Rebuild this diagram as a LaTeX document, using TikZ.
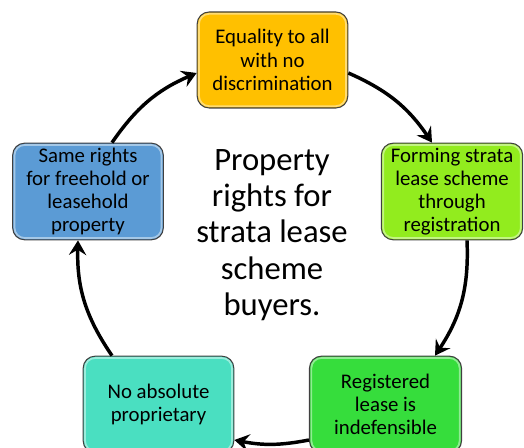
\documentclass[tikz,border=0pt]{standalone}
\usepackage{fontspec}
\setmainfont{Carlito}
\usetikzlibrary{arrows.meta}
\definecolor{cTop}{HTML}{FFC000}
\definecolor{cRight}{HTML}{92EC1E}
\definecolor{cLeft}{HTML}{5B9BD5}
\definecolor{cBL}{HTML}{4ADFC1}
\definecolor{cBR}{HTML}{36DD3C}
\tikzset{
  box/.style={draw=black!75, line width=0.8pt, rounded corners=9pt, align=center,
    inner sep=0pt, font=\fontsize{15.6}{17.4}\selectfont, text=black},
  gloss/.style={draw=white, draw opacity=0.45, line width=1.3pt, rounded corners=7.5pt},
  conn/.style={line width=2.6pt, -{Stealth[length=11pt,width=13pt,inset=4pt]}},
}
\newcommand{\glossy}[1]{\draw[gloss] ([shift={(1.8pt,1.8pt)}]#1.south west) rectangle ([shift={(-1.8pt,-1.8pt)}]#1.north east);}
\begin{document}
\begin{tikzpicture}[x=0.75pt,y=0.75pt]
\useasboundingbox (0,0) rectangle (524,448);
\begin{scope}
\clip (0,0) rectangle (524,448);
\node[box, fill=cTop, minimum width=113pt, minimum height=72pt] (top) at (272.5,388) {Equality to all\\with no\\discrimination};
\node[box, fill=cRight, minimum width=106pt, minimum height=72.5pt] (right) at (452,256.5) {Forming strata\\lease scheme\\through\\registration};
\node[box, fill=cLeft, minimum width=113pt, minimum height=72.5pt] (left) at (88,256.5) {Same rights\\for freehold or\\leasehold\\property};
\node[box, fill=cBL, minimum width=113pt, minimum height=72.5pt] (bl) at (158.5,43.5) {No absolute\\proprietary};
\node[box, fill=cBR, minimum width=114pt, minimum height=72.5pt] (br) at (385.5,43.5) {Registered\\lease is\\indefensible};
\glossy{top}\glossy{right}\glossy{left}\glossy{bl}\glossy{br}
\end{scope}
\node[align=center, font=\fontsize{24.5}{27.2}\selectfont] (title) at (272,213) {Property\\rights for\\strata lease\\scheme\\buyers.};
\draw[conn] ([yshift=-13*0.75pt]top.east) to[bend left=16] ([xshift=-20*0.75pt]right.north);
\draw[conn] ([xshift=15*0.75pt]right.south) to[bend left=18] ([xshift=49.5*0.75pt]br.north);
\draw[conn] ([yshift=-35.5*0.75pt]br.west) to[bend left=11] ([yshift=-35.5*0.75pt]bl.east);
\draw[conn] ([xshift=-46.5*0.75pt]bl.north) to[bend left=18] ([xshift=-10*0.75pt]left.south);
\draw[conn] ([xshift=24*0.75pt]left.north) to[bend left=16] ([yshift=-13*0.75pt]top.west);
\end{tikzpicture}
\end{document}
